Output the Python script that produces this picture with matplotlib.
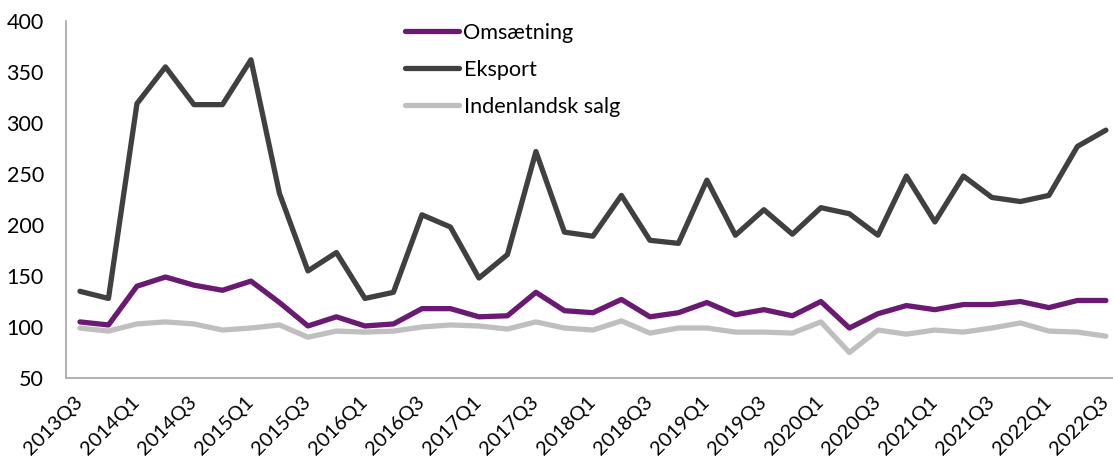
import matplotlib
matplotlib.use("Agg")
import matplotlib.pyplot as plt

# kvartaler 2013Q3 - 2022Q3
quarters = []
for yr in range(2013, 2023):
    for q in range(1, 5):
        if (yr == 2013 and q < 3) or (yr == 2022 and q > 3):
            continue
        quarters.append(f"{yr}Q{q}")

omsaetning = [105, 102, 140, 149, 141, 136, 145, 124, 101, 110, 101, 103, 118,
              118, 110, 111, 134, 116, 114, 127, 110, 114, 124, 112, 117, 111,
              125, 99, 113, 121, 117, 122, 122, 125, 119, 126, 126]
eksport = [135, 128, 319, 355, 318, 318, 362, 231, 155, 173, 128, 134, 210,
           198, 148, 171, 272, 193, 189, 229, 185, 182, 244, 190, 215, 191,
           217, 211, 190, 248, 203, 248, 227, 223, 229, 277, 293]
indenlandsk = [99, 96, 103, 105, 103, 97, 99, 102, 90, 96, 95, 96, 100,
               102, 101, 98, 105, 99, 97, 106, 94, 99, 99, 95, 95, 94,
               105, 75, 97, 93, 97, 95, 99, 104, 96, 95, 91]

plt.rcParams['font.family'] = ['Lato', 'DejaVu Sans']

fig = plt.figure(figsize=(11.13, 4.63), dpi=100)
ax = fig.add_axes([66 / 1113, 1 - 378 / 463, 1 - 66 / 1113, (378 - 21) / 463])

x = list(range(len(quarters)))
ax.plot(x, omsaetning, color='#6a1a72', lw=3.8, label='Omsætning', solid_capstyle='round')
ax.plot(x, eksport, color='#404040', lw=3.8, label='Eksport', solid_capstyle='round')
ax.plot(x, indenlandsk, color='#bfbfbf', lw=3.8, label='Indenlandsk salg', solid_capstyle='round')

ax.set_xlim(-0.49, 36.25)
ax.set_ylim(50, 400)
ax.set_yticks(range(50, 401, 50))
ax.set_xticks(x[::2])
ax.set_xticklabels(quarters[::2], rotation=45, ha='right', va='center', rotation_mode='anchor')
ax.tick_params(axis='both', length=0, labelsize=15.5, colors='black')
ax.tick_params(axis='x', pad=15, labelsize=14.5)
ax.tick_params(axis='y', pad=16)

for s in ['top', 'right']:
    ax.spines[s].set_visible(False)
for s in ['left', 'bottom']:
    ax.spines[s].set_color('#a6a6a6')
    ax.spines[s].set_linewidth(1.2)

leg = ax.legend(loc='upper left', bbox_to_anchor=((405 - 66) / 1047, 0.995), frameon=False,
                fontsize=15.6, handlelength=2.5, handletextpad=0.2, labelspacing=0.78,
                borderpad=0, borderaxespad=0)

fig.savefig('out.png', dpi=100)
